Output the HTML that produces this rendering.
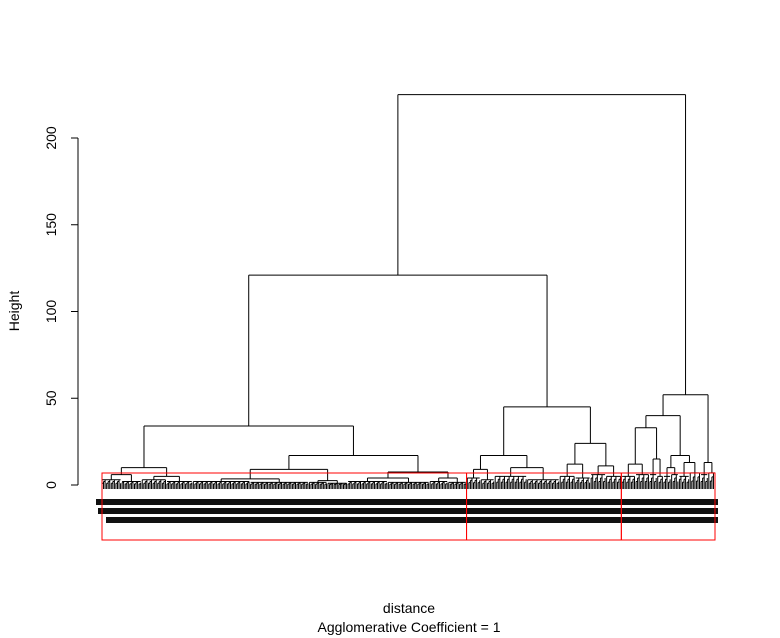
<!DOCTYPE html>
<html><head><meta charset="utf-8"><style>
body{margin:0;background:#fff}
svg{display:block;font-family:"Liberation Sans",Arial,sans-serif}
</style></head><body>
<svg id="c" width="780" height="638">
<text font-size="14" text-anchor="middle" transform="translate(19,311) rotate(-90)">Height</text>
<text x="409" y="613" font-size="14" text-anchor="middle">distance</text>
<text x="409" y="632" font-size="14" text-anchor="middle">Agglomerative Coefficient =  1</text>
</svg>
<script>
// data: tree heights (units) and leaf bundles {n: leaf count, h: bundle merge height}
const yTicks=[0,50,100,150,200];
const clusterRects=[[0,236],[236,336],[336,397]]; // leaf index ranges for red boxes
const tree={h:225,c:[
 {h:121,c:[
  {h:34,c:[
   {h:10,c:[{h:6,c:[{n:13,h:3},{n:13,h:2}]},{h:5,c:[{n:16,h:3},{n:17,h:2}]}]},
   {h:17,c:[
     {h:9,c:[{h:3.5,c:[{n:37,h:2},{n:38,h:1.5}]},{h:2.5,c:[{n:12,h:1.5},{n:13,h:1}]}]},
     {h:7.5,c:[{h:4,c:[{n:26,h:2},{n:27,h:1.5}]},{h:4,c:[{n:12,h:2},{n:12,h:1.5}]}]}
   ]}
  ]},
  {h:45,c:[
   {h:17,c:[{h:9,c:[{n:9,h:4},{n:9,h:3}]},{h:10,c:[{n:21,h:5},{n:21,h:3}]}]},
   {h:24,c:[{h:12,c:[{n:10,h:5},{n:10,h:4}]},{h:11,c:[{n:10,h:6},{n:10,h:5}]}]}
  ]}
 ]},
 {h:52,c:[
  {h:40,c:[
   {h:33,c:[{h:12,c:[{n:9,h:5},{n:9,h:6}]},{h:15,c:[{n:5,h:6},{n:4,h:5}]}]},
   {h:17,c:[{h:10,c:[{n:5,h:5},{n:5,h:6}]},{h:13,c:[{n:7,h:5},{n:7,h:7}]}]}
  ]},
  {h:13,c:[{n:5,h:6},{n:5,h:7}]}
 ]}
]};
const NS="http://www.w3.org/2000/svg";
const svgEl=document.getElementById('c');
const yS=v=>485-v*1.735;
let totalLeaves=0;(function cnt(t){if(t.n)totalLeaves+=t.n;else t.c.forEach(cnt);})(tree);
const lx0=102,lx1=715,pitch=(lx1-lx0)/(totalLeaves-1);
const xl=i=>lx0+i*pitch;
function mk(tag,a){const e=document.createElementNS(NS,tag);for(const k in a)e.setAttribute(k,a[k]);svgEl.appendChild(e);return e;}
let leafIdx=0;let pd='';
function drawNode(t){
 if(t.n){const s=leafIdx;leafIdx+=t.n;const a=xl(s),b=xl(leafIdx-1);
  for(let i=s;i<leafIdx;i++){pd+=`M${xl(i)},489V${yS(t.h*((i%3)+1)/3)}`;}
  for(let i=s;i<leafIdx-1;i++){pd+=`M${xl(i)},${yS(t.h*((i%3)+1)/3)}H${xl(i+1)}`;}
  pd+=`M${a},${yS(t.h)}H${b}`;
  return {x:(a+b)/2,h:t.h};}
 const r=t.c.map(drawNode);
 r.forEach(k=>{pd+=`M${k.x},${yS(k.h)}V${yS(t.h)}`;});
 pd+=`M${r[0].x},${yS(t.h)}H${r[r.length-1].x}`;
 return {x:(r[0].x+r[r.length-1].x)/2,h:t.h};
}
const rootPos=drawNode(tree);
const p=mk('path',{d:pd,stroke:'#000','stroke-width':1,fill:'none'});


[[96,499,622],[98,508,620],[106,517,612]].forEach(b=>{const r=mk('rect',{x:b[0],y:b[1],width:b[2],height:6,fill:'#111'});

});
clusterRects.forEach(c=>{const a=c[0]===0?lx0:(xl(c[0]-1)+xl(c[0]))/2;const b=c[1]>=totalLeaves?lx1:(xl(c[1]-1)+xl(c[1]))/2;
const r=mk('rect',{x:a,y:473,width:b-a,height:67,fill:'none',stroke:'#f00','stroke-width':1});

});
const ax=mk('path',{d:`M78,${yS(0)}V${yS(200)}`+yTicks.map(v=>`M78,${yS(v)}H71`).join(''),stroke:'#000',fill:'none'});


yTicks.forEach(v=>{const t=mk('text',{x:0,y:0,'font-size':14,'text-anchor':'middle',transform:`translate(56,${yS(v)}) rotate(-90)`});t.textContent=v;

});
</script>
</body></html>
